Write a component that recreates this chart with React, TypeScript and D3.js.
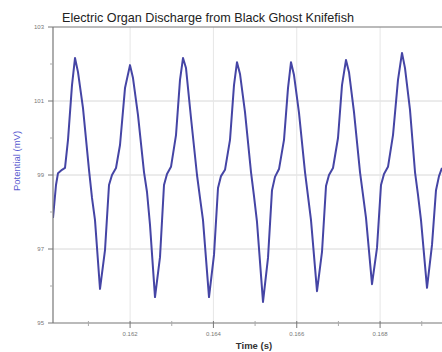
import React from "react";
import * as d3 from "d3";

const title = "Electric Organ Discharge from Black Ghost Knifefish";
const xLabel = "Time (s)";
const yLabel = "Potential (mV)";

// time in milliseconds (converted to seconds for the scale)
const timeMs = [
  160.15, 160.222, 160.27, 160.366, 160.438, 160.51, 160.606, 160.678, 160.75, 160.87,
  161.014, 161.086, 161.158, 161.278, 161.398, 161.494, 161.566, 161.662, 161.758, 161.878,
  161.998, 162.07, 162.19, 162.334, 162.406, 162.478, 162.598, 162.718, 162.814, 162.886,
  162.982, 163.102, 163.198, 163.27, 163.342, 163.462, 163.606, 163.678, 163.75, 163.894,
  164.014, 164.11, 164.182, 164.278, 164.398, 164.494, 164.566, 164.638, 164.758, 164.902,
  164.974, 165.046, 165.19, 165.31, 165.406, 165.478, 165.574, 165.694, 165.79, 165.862,
  165.934, 166.054, 166.198, 166.27, 166.342, 166.486, 166.606, 166.702, 166.774, 166.87,
  166.99, 167.086, 167.182, 167.254, 167.374, 167.518, 167.59, 167.662, 167.806, 167.926,
  168.022, 168.094, 168.19, 168.31, 168.43, 168.526, 168.598, 168.718, 168.838, 168.91,
  168.982, 169.126, 169.246, 169.342, 169.414, 169.486,
];

const potential = [
  97.84, 98.73, 99.05, 99.14, 99.19, 99.95, 101.43, 102.16, 101.78, 100.81,
  99.14, 98.38, 97.78, 95.92, 96.97, 98.73, 99.0, 99.19, 99.81, 101.35,
  101.97, 101.62, 100.62, 99.08, 98.54, 97.65, 95.7, 96.78, 98.73, 99.03,
  99.22, 100.08, 101.57, 102.16, 101.89, 100.54, 99.0, 98.38, 97.78, 95.7,
  96.84, 98.65, 98.97, 99.14, 99.95, 101.43, 102.05, 101.73, 100.7, 99.08,
  98.43, 97.73, 95.57, 96.76, 98.59, 98.95, 99.16, 99.95, 101.35, 102.05,
  101.7, 100.68, 99.08, 98.43, 97.78, 95.86, 96.92, 98.7, 99.0, 99.19,
  100.0, 101.43, 102.11, 101.78, 100.7, 99.08, 98.46, 97.84, 96.05, 97.03,
  98.73, 99.03, 99.22, 100.08, 101.57, 102.3, 101.89, 100.76, 99.08, 98.46,
  97.78, 95.95, 97.11, 98.59, 98.97, 99.19,
];

const xMajorTicks = [0.162, 0.164, 0.166, 0.168];
const xMinorTicks = [0.161, 0.163, 0.165, 0.167, 0.169];
const yMajorTicks = [95, 97, 99, 101, 103];
const yMinorTicks = [96, 98, 100, 102];

export default function App() {
  const W = 442;
  const H = 352;
  const left = 53;
  const right = 442;
  const top = 27;
  const bottom = 323;

  const x = d3.scaleLinear().domain([0.16015, 0.169486]).range([left, right]);
  const y = d3.scaleLinear().domain([95, 103]).range([bottom, top]);

  const pts: [number, number][] = timeMs.map((t, i) => [t / 1000, potential[i]]);
  const line = d3
    .line<[number, number]>()
    .x((d) => x(d[0]))
    .y((d) => y(d[1]));

  const tickFont = "Liberation Sans, Arial, sans-serif";

  return (
    <svg
      width={W}
      height={H}
      style={{ position: "absolute", left: 0, top: 0, background: "#fff" }}
    >
      <defs>
        <clipPath id="plotclip">
          <rect x={left} y={top - 2} width={right - left} height={bottom - top + 4} />
        </clipPath>
      </defs>
      <rect x={0} y={0} width={W} height={H} fill="#fff" />
      {/* grid */}
      {yMajorTicks.slice(1, -1).map((v) => (
        <line key={"gy" + v} x1={left} x2={right} y1={y(v)} y2={y(v)} stroke="#d8d8d8" strokeWidth={1} />
      ))}
      {xMajorTicks.map((v) => (
        <line key={"gx" + v} x1={x(v)} x2={x(v)} y1={top} y2={bottom} stroke="#e6e6e6" strokeWidth={1} />
      ))}
      {/* data line */}
      <path
        d={line(pts) || ""}
        fill="none"
        stroke="#4545a5"
        strokeWidth={2}
        strokeLinejoin="round"
        clipPath="url(#plotclip)"
      />
      {/* axes */}
      <line x1={left} x2={right} y1={top} y2={top} stroke="#777" strokeWidth={1.2} />
      <line x1={left} x2={right} y1={bottom} y2={bottom} stroke="#777" strokeWidth={1.2} />
      <line x1={left} x2={left} y1={top} y2={bottom} stroke="#777" strokeWidth={1.2} />
      {yMajorTicks.map((v) => (
        <g key={"yt" + v}>
          <line x1={left - 5} x2={left} y1={y(v)} y2={y(v)} stroke="#777" />
          <text
            x={left - 9}
            y={y(v) + 2}
            fontSize={6}
            fill="#777"
            textAnchor="end"
            fontFamily={tickFont}
          >
            {v}
          </text>
        </g>
      ))}
      {yMinorTicks.map((v) => (
        <line key={"ym" + v} x1={left - 3} x2={left} y1={y(v)} y2={y(v)} stroke="#aaa" />
      ))}
      {xMajorTicks.map((v) => (
        <g key={"xt" + v}>
          <line x1={x(v)} x2={x(v)} y1={bottom - 2} y2={bottom + 5} stroke="#777" />
          <text
            x={x(v)}
            y={bottom + 13}
            fontSize={6}
            fill="#777"
            textAnchor="middle"
            fontFamily={tickFont}
          >
            {v.toFixed(3)}
          </text>
        </g>
      ))}
      {xMinorTicks.map((v) => (
        <line key={"xm" + v} x1={x(v)} x2={x(v)} y1={bottom - 2} y2={bottom + 3} stroke="#aaa" />
      ))}
      {/* title & labels */}
      <text
        x={208}
        y={22}
        fontSize={12.6}
        fill="#222"
        textAnchor="middle"
        fontFamily={tickFont}
      >
        {title}
      </text>
      <text
        x={254}
        y={349}
        fontSize={9.5}
        fontWeight={600}
        fill="#333"
        textAnchor="middle"
        fontFamily={tickFont}
      >
        {xLabel}
      </text>
      <text
        transform={`translate(20,161) rotate(-90)`}
        fontSize={9.5}
        fill="#5a5ad0"
        textAnchor="middle"
        fontFamily={tickFont}
      >
        {yLabel}
      </text>
    </svg>
  );
}
